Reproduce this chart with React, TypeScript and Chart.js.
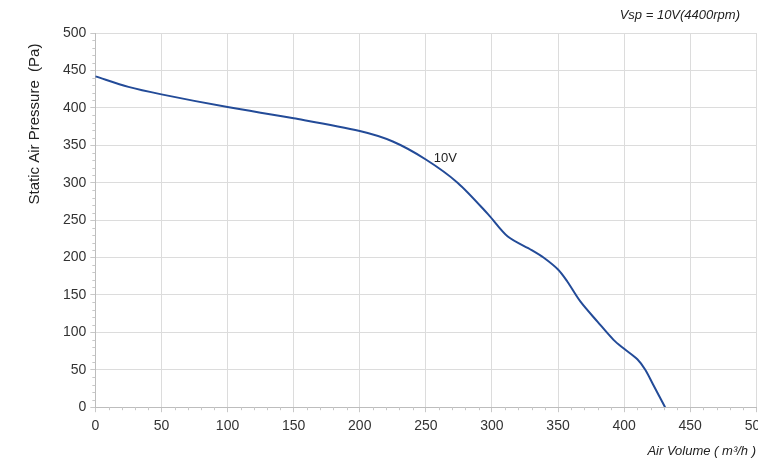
import React, { useEffect, useRef } from "react";
import { Chart, registerables } from "chart.js";

Chart.register(...registerables);

const airVolume = [0, 25, 50, 100, 150, 200, 225, 250, 274, 297, 312, 330, 339, 350, 357, 367, 380, 392, 400, 410, 416, 422, 431];
const pressure = [442, 428, 418, 401, 386, 369, 355, 331, 300, 258, 228, 210, 200, 184, 168, 141, 114, 90, 78, 64, 50, 30, 0];
const seriesLabel = "10V";
const xTitle = "Air Volume ( m³/h )";
const yTitle = "Static Air Pressure  (Pa)";
const topNote = "Vsp = 10V(4400rpm)";

const FONT = "'Liberation Sans', Arial, sans-serif";

const textPlugin = {
  id: "texts",
  afterDraw(chart: any) {
    const ctx = chart.ctx;
    const xs = chart.scales.x;
    const ys = chart.scales.y;
    ctx.save();
    // minor ticks
    ctx.strokeStyle = "#c8c8c8";
    ctx.lineWidth = 1;
    for (let v = 0; v <= 500; v += 10) {
      if (v % 50 === 0) continue;
      const px = Math.round(xs.getPixelForValue(v)) + 0.5;
      ctx.beginPath();
      ctx.moveTo(px, ys.bottom);
      ctx.lineTo(px, ys.bottom + 3);
      ctx.stroke();
      const py = Math.round(ys.getPixelForValue(v)) + 0.5;
      ctx.beginPath();
      ctx.moveTo(xs.left - 3, py);
      ctx.lineTo(xs.left, py);
      ctx.stroke();
    }
    // y title
    ctx.fillStyle = "#222";
    ctx.font = `15px ${FONT}`;
    ctx.textAlign = "center";
    ctx.textBaseline = "middle";
    ctx.translate(35, 124);
    ctx.rotate(-Math.PI / 2);
    ctx.fillText(yTitle, 0, 0);
    ctx.setTransform(1, 0, 0, 1, 0, 0);
    // x title
    ctx.font = `italic 13px ${FONT}`;
    ctx.textAlign = "right";
    ctx.textBaseline = "middle";
    ctx.fillText(xTitle, 756, 451);
    // top note
    ctx.fillText(topNote, 740, 15);
    // series label
    ctx.font = `13px ${FONT}`;
    ctx.textAlign = "left";
    ctx.fillText(seriesLabel, xs.getPixelForValue(256), ys.getPixelForValue(333));
    ctx.restore();
  },
};

export default function App() {
  const ref = useRef<HTMLCanvasElement>(null);
  useEffect(() => {
    const chart = new Chart(ref.current!, {
      type: "line",
      data: {
        datasets: [
          {
            label: seriesLabel,
            data: airVolume.map((x, i) => ({ x, y: pressure[i] })),
            borderColor: "#234b98",
            borderWidth: 2,
            pointRadius: 0,
            tension: 0.3,
            fill: false,
          },
        ],
      },
      options: {
        animation: false,
        responsive: false,
        maintainAspectRatio: false,
        layout: { padding: { left: 59, top: 33, right: 0, bottom: 20 } },
        plugins: { legend: { display: false }, tooltip: { enabled: false } },
        scales: {
          x: {
            type: "linear",
            min: 0,
            max: 500,
            ticks: { stepSize: 50, color: "#333", font: { family: FONT, size: 14 }, padding: 6, maxRotation: 0 },
            grid: { color: "#dcdcdc", tickColor: "#c8c8c8", tickLength: 5 },
            border: { color: "#bdbdbd" },
          },
          y: {
            min: 0,
            max: 500,
            ticks: { stepSize: 50, color: "#333", font: { family: FONT, size: 14 }, padding: 4 },
            grid: { color: "#dcdcdc", tickColor: "#c8c8c8", tickLength: 5 },
            border: { color: "#bdbdbd" },
          },
        },
      },
      plugins: [textPlugin],
    });
    return () => chart.destroy();
  }, []);
  return (
    <div style={{ position: "fixed", left: 0, top: 0, width: 758, height: 461, overflow: "hidden", background: "#fff" }}>
      <canvas ref={ref} width={774} height={461} style={{ display: "block" }} />
    </div>
  );
}
